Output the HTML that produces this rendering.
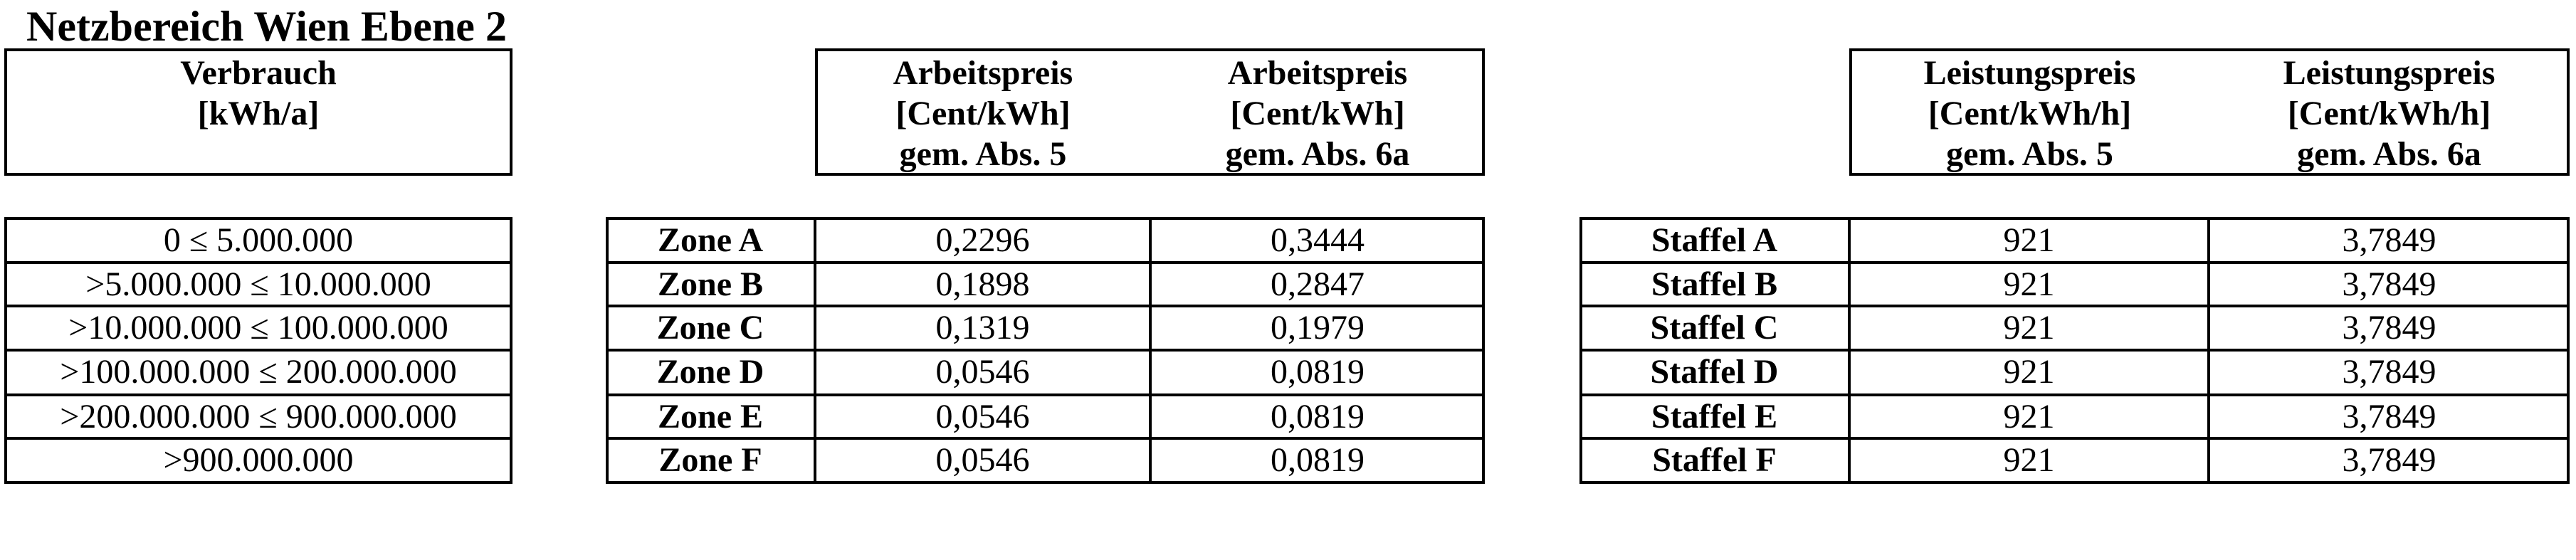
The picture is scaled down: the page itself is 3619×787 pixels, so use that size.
<!DOCTYPE html>
<html><head><meta charset="utf-8"><style>
html,body{margin:0;padding:0;background:#fff;}
body{width:3619px;height:787px;position:relative;overflow:hidden;font-family:"Liberation Serif","Times New Roman",serif;color:#000;}
.box{position:absolute;border:4px solid #000;box-sizing:border-box;}
.c{position:absolute;display:flex;align-items:center;justify-content:center;font-size:48px;line-height:1;white-space:nowrap;box-sizing:border-box;}
.b{font-weight:bold;}
.vl{position:absolute;background:#000;width:4px;}
.hl{position:absolute;background:#000;height:4px;}
.hd{position:absolute;text-align:center;font-weight:bold;font-size:48px;line-height:57px;white-space:nowrap;}
</style></head><body>
<div style="position:absolute;left:37px;top:4px;font-weight:bold;font-size:60px;line-height:66px;white-space:nowrap;">Netzbereich Wien Ebene 2</div>

<!-- header boxes -->
<div class="box" style="left:6px;top:68px;width:714px;height:179px;"></div>
<div class="hd" style="left:6px;width:714px;top:74px;">Verbrauch<br>[kWh/a]</div>

<div class="box" style="left:1145px;top:68px;width:941px;height:179px;"></div>
<div class="hd" style="left:1145px;width:472px;top:74px;">Arbeitspreis<br>[Cent/kWh]<br>gem. Abs. 5</div>
<div class="hd" style="left:1616px;width:470px;top:74px;">Arbeitspreis<br>[Cent/kWh]<br>gem. Abs. 6a</div>

<div class="box" style="left:2598px;top:68px;width:1012px;height:179px;"></div>
<div class="hd" style="left:2598px;width:507px;top:74px;">Leistungspreis<br>[Cent/kWh/h]<br>gem. Abs. 5</div>
<div class="hd" style="left:3103px;width:507px;top:74px;">Leistungspreis<br>[Cent/kWh/h]<br>gem. Abs. 6a</div>

<!-- bottom tables -->
<div class="box" style="left:6px;top:305px;width:714px;height:375px;"></div>
<div class="box" style="left:851px;top:305px;width:1235px;height:375px;"></div>
<div class="box" style="left:2219px;top:305px;width:1391px;height:375px;"></div>
<div class="vl" style="left:1143px;top:305px;height:375px;"></div>
<div class="vl" style="left:1614px;top:305px;height:375px;"></div>
<div class="vl" style="left:2596px;top:305px;height:375px;"></div>
<div class="vl" style="left:3101px;top:305px;height:375px;"></div>

<!-- horizontal row lines -->
<div class="hl" style="left:6px;width:714px;top:367px;"></div>
<div class="hl" style="left:6px;width:714px;top:428px;"></div>
<div class="hl" style="left:6px;width:714px;top:490px;"></div>
<div class="hl" style="left:6px;width:714px;top:553px;"></div>
<div class="hl" style="left:6px;width:714px;top:614px;"></div>
<div class="hl" style="left:851px;width:1235px;top:367px;"></div>
<div class="hl" style="left:851px;width:1235px;top:428px;"></div>
<div class="hl" style="left:851px;width:1235px;top:490px;"></div>
<div class="hl" style="left:851px;width:1235px;top:553px;"></div>
<div class="hl" style="left:851px;width:1235px;top:614px;"></div>
<div class="hl" style="left:2219px;width:1391px;top:367px;"></div>
<div class="hl" style="left:2219px;width:1391px;top:428px;"></div>
<div class="hl" style="left:2219px;width:1391px;top:490px;"></div>
<div class="hl" style="left:2219px;width:1391px;top:553px;"></div>
<div class="hl" style="left:2219px;width:1391px;top:614px;"></div>

<!-- row text -->
<div class="c" style="left:6px;width:714px;top:308px;height:60px;">0 ≤ 5.000.000</div>
<div class="c" style="left:6px;width:714px;top:370px;height:60px;">&gt;5.000.000 ≤ 10.000.000</div>
<div class="c" style="left:6px;width:714px;top:431px;height:60px;">&gt;10.000.000 ≤ 100.000.000</div>
<div class="c" style="left:6px;width:714px;top:493px;height:60px;">&gt;100.000.000 ≤ 200.000.000</div>
<div class="c" style="left:6px;width:714px;top:556px;height:60px;">&gt;200.000.000 ≤ 900.000.000</div>
<div class="c" style="left:6px;width:714px;top:617px;height:60px;">&gt;900.000.000</div>

<div class="c b" style="left:851px;width:294px;top:308px;height:60px;">Zone A</div>
<div class="c b" style="left:851px;width:294px;top:370px;height:60px;">Zone B</div>
<div class="c b" style="left:851px;width:294px;top:431px;height:60px;">Zone C</div>
<div class="c b" style="left:851px;width:294px;top:493px;height:60px;">Zone D</div>
<div class="c b" style="left:851px;width:294px;top:556px;height:60px;">Zone E</div>
<div class="c b" style="left:851px;width:294px;top:617px;height:60px;">Zone F</div>

<div class="c" style="left:1145px;width:471px;top:308px;height:60px;">0,2296</div>
<div class="c" style="left:1145px;width:471px;top:370px;height:60px;">0,1898</div>
<div class="c" style="left:1145px;width:471px;top:431px;height:60px;">0,1319</div>
<div class="c" style="left:1145px;width:471px;top:493px;height:60px;">0,0546</div>
<div class="c" style="left:1145px;width:471px;top:556px;height:60px;">0,0546</div>
<div class="c" style="left:1145px;width:471px;top:617px;height:60px;">0,0546</div>

<div class="c" style="left:1616px;width:470px;top:308px;height:60px;">0,3444</div>
<div class="c" style="left:1616px;width:470px;top:370px;height:60px;">0,2847</div>
<div class="c" style="left:1616px;width:470px;top:431px;height:60px;">0,1979</div>
<div class="c" style="left:1616px;width:470px;top:493px;height:60px;">0,0819</div>
<div class="c" style="left:1616px;width:470px;top:556px;height:60px;">0,0819</div>
<div class="c" style="left:1616px;width:470px;top:617px;height:60px;">0,0819</div>

<div class="c b" style="left:2219px;width:379px;top:308px;height:60px;">Staffel A</div>
<div class="c b" style="left:2219px;width:379px;top:370px;height:60px;">Staffel B</div>
<div class="c b" style="left:2219px;width:379px;top:431px;height:60px;">Staffel C</div>
<div class="c b" style="left:2219px;width:379px;top:493px;height:60px;">Staffel D</div>
<div class="c b" style="left:2219px;width:379px;top:556px;height:60px;">Staffel E</div>
<div class="c b" style="left:2219px;width:379px;top:617px;height:60px;">Staffel F</div>

<div class="c" style="left:2598px;width:505px;top:308px;height:60px;">921</div>
<div class="c" style="left:2598px;width:505px;top:370px;height:60px;">921</div>
<div class="c" style="left:2598px;width:505px;top:431px;height:60px;">921</div>
<div class="c" style="left:2598px;width:505px;top:493px;height:60px;">921</div>
<div class="c" style="left:2598px;width:505px;top:556px;height:60px;">921</div>
<div class="c" style="left:2598px;width:505px;top:617px;height:60px;">921</div>

<div class="c" style="left:3103px;width:507px;top:308px;height:60px;">3,7849</div>
<div class="c" style="left:3103px;width:507px;top:370px;height:60px;">3,7849</div>
<div class="c" style="left:3103px;width:507px;top:431px;height:60px;">3,7849</div>
<div class="c" style="left:3103px;width:507px;top:493px;height:60px;">3,7849</div>
<div class="c" style="left:3103px;width:507px;top:556px;height:60px;">3,7849</div>
<div class="c" style="left:3103px;width:507px;top:617px;height:60px;">3,7849</div>
</body></html>
